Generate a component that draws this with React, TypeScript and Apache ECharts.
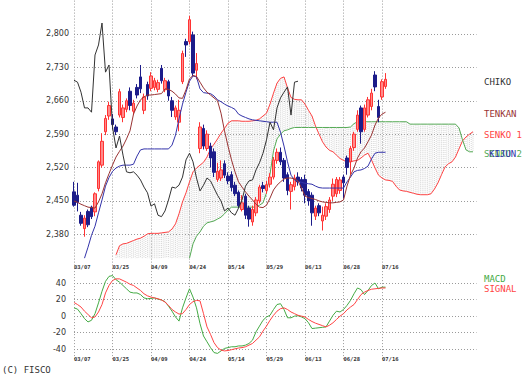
import React, { useEffect, useRef } from 'react';
import * as echarts from 'echarts';

const tickLabels = ['03/07', '03/25', '04/09', '04/24', '05/14', '05/29', '06/13', '06/28', '07/16'];
const TICK_STEP = 11;
const AXIS_LEN = 116;
const FLOOR = 2330;

// [open, close, low, high]
const ohlc = [
  [2469, 2441, 2438, 2490], [2462, 2447, 2428, 2488], [2420, 2403, 2398, 2427], [2392, 2414, 2375, 2420],
  [2428, 2400, 2395, 2432], [2437, 2417, 2412, 2440], [2427, 2465, 2418, 2468], [2476, 2532, 2470, 2535],
  [2525, 2575, 2520, 2592], [2595, 2623, 2588, 2630], [2628, 2650, 2620, 2658], [2622, 2610, 2600, 2632],
  [2605, 2595, 2588, 2610], [2630, 2679, 2625, 2685], [2625, 2645, 2615, 2652], [2642, 2660, 2636, 2665],
  [2680, 2650, 2640, 2688], [2638, 2655, 2630, 2662], [2688, 2672, 2665, 2695], [2710, 2685, 2676, 2735],
  [2640, 2668, 2632, 2675], [2694, 2670, 2662, 2700], [2686, 2712, 2680, 2720], [2688, 2702, 2682, 2708],
  [2684, 2698, 2678, 2704], [2728, 2702, 2696, 2735], [2683, 2702, 2678, 2708], [2700, 2670, 2660, 2704],
  [2660, 2640, 2626, 2668], [2626, 2645, 2620, 2650], [2615, 2640, 2596, 2662], [2700, 2759, 2695, 2765],
  [2784, 2777, 2752, 2790], [2784, 2830, 2778, 2838], [2798, 2718, 2712, 2805], [2724, 2738, 2705, 2760],
  [2560, 2605, 2550, 2615], [2602, 2565, 2558, 2610], [2560, 2590, 2555, 2598], [2565, 2540, 2520, 2572],
  [2553, 2510, 2500, 2560], [2495, 2512, 2490, 2530], [2498, 2515, 2492, 2535], [2528, 2504, 2498, 2535],
  [2502, 2492, 2485, 2510], [2505, 2478, 2470, 2512], [2483, 2465, 2460, 2490], [2468, 2440, 2435, 2472],
  [2432, 2446, 2428, 2462], [2460, 2420, 2412, 2465], [2435, 2412, 2396, 2440], [2406, 2432, 2398, 2440],
  [2425, 2452, 2418, 2458], [2450, 2479, 2445, 2484], [2482, 2476, 2468, 2490], [2472, 2484, 2465, 2492],
  [2485, 2500, 2478, 2508], [2500, 2536, 2495, 2542], [2535, 2552, 2528, 2560], [2552, 2532, 2525, 2562],
  [2535, 2498, 2490, 2540], [2505, 2472, 2462, 2510], [2470, 2484, 2432, 2490], [2480, 2498, 2472, 2505],
  [2500, 2490, 2482, 2510], [2495, 2477, 2470, 2500], [2495, 2462, 2445, 2505], [2470, 2450, 2440, 2475],
  [2462, 2425, 2398, 2468], [2418, 2435, 2410, 2440], [2440, 2425, 2418, 2445], [2408, 2420, 2388, 2438],
  [2418, 2438, 2410, 2445], [2432, 2452, 2425, 2458], [2460, 2485, 2450, 2497], [2465, 2495, 2458, 2500],
  [2472, 2494, 2465, 2500], [2500, 2488, 2455, 2505], [2540, 2520, 2505, 2545], [2532, 2560, 2505, 2565],
  [2562, 2590, 2555, 2595], [2600, 2630, 2595, 2640], [2645, 2595, 2570, 2650], [2600, 2645, 2595, 2652],
  [2630, 2662, 2625, 2668], [2648, 2676, 2640, 2685], [2714, 2689, 2680, 2722], [2648, 2625, 2615, 2662],
  [2668, 2700, 2662, 2705], [2690, 2705, 2685, 2718],
];

const chiko = [
  2703, 2699, 2678, 2645, 2645, 2636, 2756, 2777, 2823, 2720, 2735, 2605, 2561, 2586, 2546, 2511, 2509, 2511,
  2504, 2494, 2479, 2467, 2439, 2444, 2420, 2417, 2429, 2452, 2479, 2477, 2483, 2500, 2536, 2550, 2532, 2498,
  2471, 2483, 2498, 2492, 2477, 2462, 2450, 2429, 2435, 2425, 2420, 2435, 2452, 2481, 2492, 2494, 2515, 2530,
  2550, 2578, 2615, 2599, 2645, 2666, 2678, 2689, 2630, 2699, 2701,
];

const tenkan = [
  2450, 2447, 2443, 2440, 2437, 2436, 2435, 2448, 2465, 2488,
  2507, 2525, 2542, 2554, 2565, 2580, 2597, 2632, 2649, 2662,
  2668, 2672, 2672, 2673, 2674, 2675, 2685, 2684, 2680, 2674,
  2666, 2665, 2683, 2706, 2713, 2711, 2699, 2687, 2678, 2672,
  2666, 2660, 2634, 2597, 2565, 2536, 2511, 2490, 2479, 2469,
  2460, 2452, 2443, 2437, 2436, 2441, 2456, 2473, 2483, 2490,
  2496, 2498, 2498, 2496, 2492, 2477, 2460, 2457, 2455, 2453,
  2450, 2448, 2447, 2446, 2446, 2447, 2448, 2452, 2481, 2504,
  2519, 2540, 2553, 2561, 2574, 2588, 2609, 2624, 2632, 2636,
];

const kijun = [
  null, null, null, 2330, 2353, 2378, 2397, 2425, 2452, 2481,
  2499, 2512, 2519, 2523, 2525, 2525, 2525, 2527, 2544, 2557,
  2559, 2559, 2559, 2559, 2559, 2559, 2559, 2559, 2567, 2588,
  2622, 2653, 2678, 2701, 2712, 2710, 2685, 2677, 2676, 2675,
  2670, 2662, 2658, 2653, 2649, 2646, 2642, 2632, 2628, 2625,
  2622, 2620, 2619, 2618, 2617, 2616, 2615, 2615, 2615, 2594,
  2565, 2532, 2504, 2494, 2491, 2489, 2487, 2486, 2485, 2481,
  2478, 2477, 2477, 2477, 2477, 2477, 2477, 2477, 2490, 2500,
  2511, 2514, 2515, 2518, 2523, 2538, 2550, 2552, 2552, 2552,
];

const senko1 = [
  null, null, null, null, null, null, null, null, null, null,
  null, null, 2337, 2356, 2360, 2361, 2364, 2367, 2370, 2372,
  2376, 2381, 2382, 2382, 2382, 2383, 2384, 2385, 2391, 2402,
  2423, 2448, 2467, 2490, 2511, 2519, 2525, 2531, 2542, 2559,
  2569, 2580, 2592, 2602, 2613, 2618, 2618, 2618, 2617, 2617,
  2617, 2618, 2619, 2622, 2628, 2634, 2653, 2676, 2697, 2707,
  2710, 2687, 2667, 2663, 2662, 2662, 2653, 2640, 2628, 2607,
  2590, 2574, 2563, 2556, 2553, 2546, 2539, 2535, 2532, 2532,
  2534, 2535, 2540, 2546, 2550, 2536, 2519, 2504, 2498, 2494,
  2493, 2491, 2481, 2473, 2471, 2470, 2468, 2466, 2464, 2463,
  2463, 2463, 2465, 2475, 2488, 2505, 2521, 2528, 2532, 2542,
  2559, 2576, 2584, 2590, 2595,
];

const senko2 = [
  null, null, null, null, null, null, null, null, null, null,
  null, null, null, null, null, null, null, null, null, null,
  null, null, null, null, null, null, null, null, null, null,
  null, null, null, 2330, 2360, 2376, 2385, 2397, 2404, 2406,
  2408, 2412, 2416, 2423, 2431, 2437, 2437, 2437, 2437, 2437,
  2437, 2437, 2437, 2441, 2446, 2467, 2506, 2555, 2580, 2590,
  2597, 2599, 2602, 2604, 2604, 2604, 2604, 2604, 2604, 2604,
  2604, 2604, 2604, 2604, 2604, 2604, 2604, 2604, 2604, 2605,
  2612, 2616, 2616, 2616, 2616, 2616, 2616, 2616, 2616, 2616,
  2616, 2616, 2616, 2616, 2616, 2616, 2611, 2611, 2611, 2611,
  2611, 2611, 2611, 2611, 2611, 2611, 2611, 2611, 2611, 2611,
  2603, 2578, 2557, 2553, 2553,
];

const macd = [
  10, 8.5, 3, -3, -7, -5, 3, 16, 30, 42,
  48, 49, 44, 41, 37, 33, 29, 28, 28, 26,
  22, 21, 21.5, 22, 20.5, 19.5, 17.5, 12, 6, -1,
  -6, 10, 22, 33, 23, 10, -9, -24, -31, -38,
  -44, -45, -42, -39, -38, -37, -37, -36, -36, -35,
  -33, -29, -19, -12, -5, -1, 1, 8, 14, 15,
  8, -2, -2, 0, 0.5, -1, -3, -8, -15, -14.5,
  -14, -13.5, -13, -6, 1, 6, 5, 8, 13, 19,
  27, 34, 32, 26, 31, 37, 40, 33, 35, 35,
];

const signal = [
  16.5, 14, 11, 6, 2, -2, -1, 5, 14, 28,
  37, 43, 45, 45, 43, 41, 38.5, 37, 34, 31,
  27, 24.5, 23, 22, 21, 19.5, 17, 13, 8, 5,
  2.5, 3, 8, 14, 17.5, 19, 18.5, 3, -13, -22,
  -32, -38, -41, -42, -41.5, -40.5, -39.5, -38.5, -38, -37,
  -35, -33, -29, -25, -18, -12, -5, 1, 6, 9,
  10, 8, 5, 3, 1, 0, -1, -4, -6.5, -8.5,
  -10, -11.5, -13, -11, -8, -4, 0, 3, 7.5, 11,
  14, 20, 26, 29, 31, 32.5, 33, 33.5, 34, 34,
];

const COLORS = {
  chiko: '#333333',
  tenkan: '#993333',
  kijun: '#3333aa',
  senko1: '#ff4444',
  senko2: '#55aa55',
  macd: '#44aa44',
  signal: '#ff4444',
  up: '#ff8a8a',
  upBorder: '#ff3333',
  down: '#1c1c8a',
  hatch: '#b8b8b8',
};

const MONO = '"DejaVu Sans Mono", monospace';

export default function App() {
  const ref = useRef<HTMLDivElement>(null);

  useEffect(() => {
    if (!ref.current) return;
    const chart = echarts.init(ref.current, null, { renderer: 'svg' });
    const cats = Array.from({ length: AXIS_LEN }, (_, i) => String(i));
    const showTick = (idx: number) => idx % TICK_STEP === 0 && idx / TICK_STEP < tickLabels.length;
    const dotted = { color: '#9a9a9a', width: 1, type: [1, 2] as number[] };

    const xAxisBase = (gridIndex: number, margin: number) => ({
      type: 'category',
      gridIndex,
      data: cats,
      boundaryGap: false,
      axisLine: { show: false },
      axisTick: { show: false },
      axisLabel: {
        interval: (i: number) => showTick(i),
        formatter: (v: string) => {
          const i = parseInt(v, 10);
          return showTick(i) ? tickLabels[i / TICK_STEP] : '';
        },
        align: 'left',
        verticalAlign: 'middle',
        margin,
        fontSize: 5.5,
        fontWeight: 'bold',
        fontFamily: MONO,
        color: '#333',
      },
      splitLine: { show: true, interval: (i: number) => showTick(i), lineStyle: dotted },
    });

    const hatchData: number[][] = [];
    for (let i = 0; i < senko1.length; i++) {
      if (senko1[i] != null) hatchData.push([i, senko1[i] as number, (senko2[i] ?? FLOOR) as number]);
    }

    const lineSeries = (name: string, data: (number | null)[], color: string, xi = 0, z = 4) => ({
      name,
      type: 'line',
      xAxisIndex: xi,
      yAxisIndex: xi,
      data,
      symbol: 'none',
      connectNulls: false,
      lineStyle: { color, width: 1 },
      itemStyle: { color },
      silent: true,
      z,
    });

    const hatchStyle = { stroke: COLORS.hatch, lineWidth: 0.6, lineDash: [1, 1] };

    const option = {
      animation: false,
      backgroundColor: '#ffffff',
      grid: [
        { left: 74, top: 0.6, width: 402.5, height: 267.1 },
        { left: 74, top: 268.1, width: 402.5, height: 91.1 },
      ],
      xAxis: [xAxisBase(0, -1), xAxisBase(1, 0)],
      yAxis: [
        {
          type: 'value',
          gridIndex: 0,
          min: 2310,
          max: 2870,
          interval: 70,
          axisLine: { show: false },
          axisTick: { show: false },
          axisLabel: {
            showMinLabel: false,
            showMaxLabel: false,
            formatter: (v: number) => v.toLocaleString('en-US'),
            fontSize: 8,
            fontFamily: '"DejaVu Sans", sans-serif',
            color: '#333',
            margin: 5,
          },
          splitLine: { show: true, showMinLine: false, showMaxLine: false, lineStyle: dotted },
        },
        {
          type: 'value',
          gridIndex: 1,
          min: -52,
          max: 58,
          axisLine: { show: false },
          axisTick: { show: false },
          axisLabel: {
            showMinLabel: false,
            showMaxLabel: false,
            formatter: (v: number) => (v % 20 === 0 ? String(v) : ''),
            fontSize: 8,
            fontFamily: '"DejaVu Sans", sans-serif',
            color: '#333',
            margin: 8,
          },
          splitLine: { show: true, showMinLine: false, showMaxLine: false, lineStyle: dotted },
        },
      ],
      graphic: [
        { type: 'text', left: 484, top: 77.5, style: { text: 'CHIKO', fill: COLORS.chiko, font: `9px ${MONO}` } },
        { type: 'text', left: 484, top: 109.5, style: { text: 'TENKAN', fill: COLORS.tenkan, font: `9px ${MONO}` } },
        { type: 'text', left: 484, top: 130, style: { text: 'SENKO 1', fill: COLORS.senko1, font: `9px ${MONO}` } },
        { type: 'text', left: 484, top: 149.5, style: { text: 'SENKO 2', fill: COLORS.senko2, font: `9px ${MONO}` } },
        { type: 'text', left: 489, top: 149.5, style: { text: 'KIJUN', fill: COLORS.kijun, font: `9px ${MONO}` } },
        { type: 'text', left: 484, top: 274, style: { text: 'MACD', fill: COLORS.macd, font: `9px ${MONO}` } },
        { type: 'text', left: 484, top: 284.7, style: { text: 'SIGNAL', fill: COLORS.signal, font: `9px ${MONO}` } },
        { type: 'text', left: 2, top: 365, style: { text: '(C) FISCO', fill: '#333', font: `9px ${MONO}` } },
      ],
      series: [
        {
          type: 'custom',
          xAxisIndex: 0,
          yAxisIndex: 0,
          data: hatchData,
          silent: true,
          z: 1,
          clip: true,
          renderItem: (params: any, api: any) => {
            const i = api.value(0);
            const a = api.value(1);
            const b = api.value(2);
            const p1 = api.coord([i, a]);
            const p2 = api.coord([i, b]);
            const children: any[] = [
              {
                type: 'line',
                shape: { x1: p1[0], y1: p1[1], x2: p2[0], y2: p2[1] },
                style: hatchStyle,
              },
            ];
            const j = i + 1;
            if (j < senko1.length && senko1[j] != null) {
              const a2 = (a + (senko1[j] as number)) / 2;
              const b2 = (b + ((senko2[j] ?? FLOOR) as number)) / 2;
              const q = api.coord([j, a2]);
              const r = api.coord([j, b2]);
              const mx = (p1[0] + q[0]) / 2;
              children.push({
                type: 'line',
                shape: { x1: mx, y1: q[1], x2: mx, y2: r[1] },
                style: hatchStyle,
              });
            }
            return { type: 'group', children };
          },
        },
        lineSeries('SENKO 1', senko1, COLORS.senko1, 0, 2),
        lineSeries('SENKO 2', senko2, COLORS.senko2, 0, 2),
        {
          type: 'candlestick',
          xAxisIndex: 0,
          yAxisIndex: 0,
          data: ohlc,
          barWidth: 3,
          silent: true,
          z: 3,
          itemStyle: {
            color: COLORS.up,
            color0: COLORS.down,
            borderColor: COLORS.upBorder,
            borderColor0: COLORS.down,
            borderWidth: 1,
          },
        },
        lineSeries('KIJUN', kijun, COLORS.kijun),
        lineSeries('TENKAN', tenkan, COLORS.tenkan),
        lineSeries('CHIKO', chiko, COLORS.chiko),
        lineSeries('MACD', macd, COLORS.macd, 1),
        lineSeries('SIGNAL', signal, COLORS.signal, 1),
      ],
    };

    chart.setOption(option as any);
    return () => chart.dispose();
  }, []);

  return (
    <div
      ref={ref}
      style={{ position: 'fixed', left: 0, top: 0, width: 530, height: 379, background: '#fff' }}
    />
  );
}
